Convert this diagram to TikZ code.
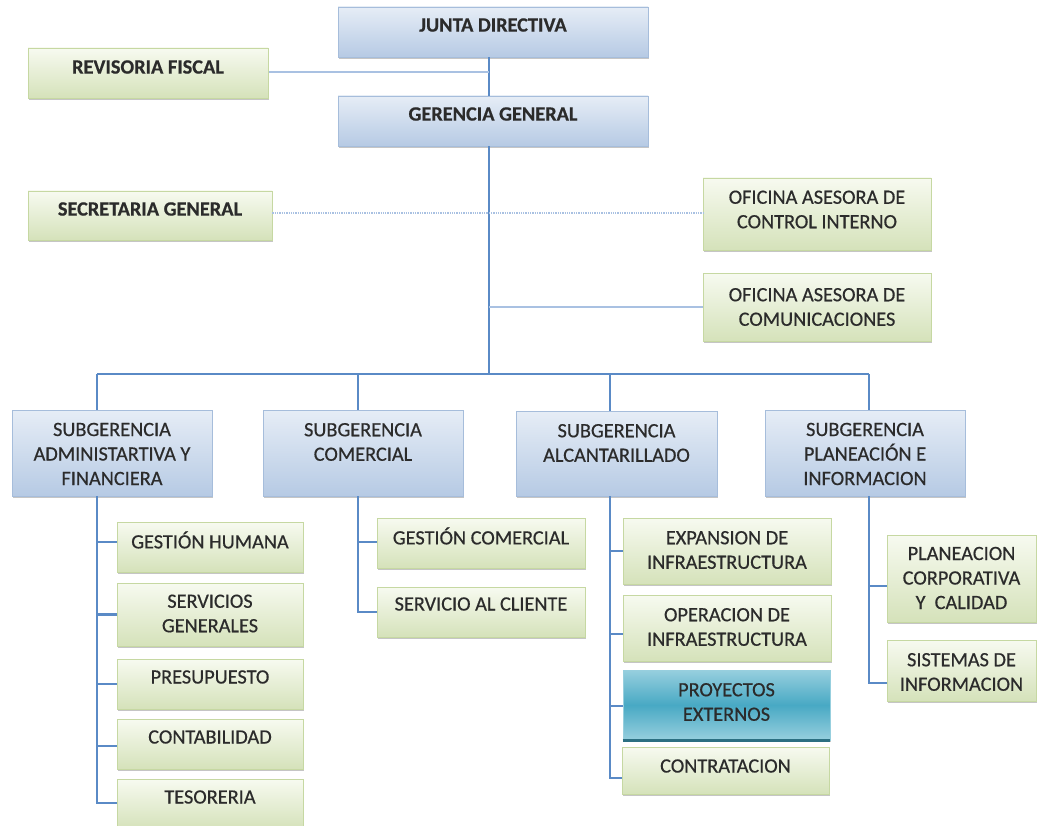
\documentclass[tikz,border=0pt]{standalone}
\usepackage{fontspec}
\setmainfont{Carlito}
\newfontfamily\boxfont[FakeBold=0.5]{Carlito}
\usetikzlibrary{shadows,calc}
\definecolor{bluetop}{HTML}{E6EDF6}
\definecolor{bluebot}{HTML}{B6CAE4}
\definecolor{blueedge}{HTML}{A6BDDB}
\definecolor{greentop}{HTML}{F7FAF0}
\definecolor{greenbot}{HTML}{D5E2BA}
\definecolor{greenedge}{HTML}{C6D8A2}
\definecolor{tealtop}{HTML}{97CFDE}
\definecolor{tealmid}{HTML}{48A9C4}
\definecolor{tealedge}{HTML}{2C6F82}
\definecolor{linemain}{HTML}{5A8AC6}
\definecolor{linelight}{HTML}{A9C1E2}
\definecolor{txtcol}{HTML}{2B2B2B}
\tikzset{
  base/.style={rectangle, line width=0.8pt, inner sep=0pt,
    drop shadow={shadow xshift=1pt, shadow yshift=-2.2pt, opacity=0.45}},
  bluebox/.style={base, draw=blueedge, top color=bluetop, bottom color=bluebot},
  greenbox/.style={base, draw=greenedge, top color=greentop, bottom color=greenbot},
  tealbox/.style={base, draw=tealtop, top color=tealtop, bottom color=tealtop, middle color=tealmid},
  txt/.style={align=center, font=\boxfont\fontsize{20.3}{24.5}\selectfont, text=txtcol, inner sep=0pt},
  mainline/.style={draw=linemain, line width=2.4pt},
  lightline/.style={draw=linelight, line width=1.3pt},
}
\newcommand{\orgbox}[8]{%
  \pgfmathsetmacro{\bxc}{(#3+#5)/2}%
  \pgfmathsetmacro{\byc}{(#4+#6)/2}%
  \pgfmathsetmacro{\bxw}{#5-#3}%
  \pgfmathsetmacro{\bxh}{#6-#4}%
  \node[#2, minimum width=\bxw pt, minimum height=\bxh pt] (#1) at (\bxc,\byc) {};
  \node[txt] (#1-t) at (\bxc,#7) {#8};
}
\begin{document}
\begin{tikzpicture}[x=1pt,y=-1pt]
\useasboundingbox[fill=white] (0,0) rectangle (1038,826);
% coordinates of trunk and drops
\coordinate (trunk) at (489,374);
\coordinate (dA) at (97,374);
\coordinate (dB) at (358,374);
\coordinate (dC) at (610,374);
\coordinate (dD) at (869,374);
\orgbox{jd}{bluebox}{338}{7}{648}{57}{25}{\bfseries JUNTA DIRECTIVA}
\orgbox{gg}{bluebox}{338}{96}{648}{146}{114}{\bfseries GERENCIA GENERAL}
\draw[mainline] (jd.south -| trunk) -- (gg.north -| trunk);
\draw[lightline] (28,72) ++(240,0) coordinate (revE) -- (revE -| trunk);
\orgbox{rf}{greenbox}{28}{48}{268}{98}{67}{\bfseries REVISORIA FISCAL}
\draw[mainline] (gg.south -| trunk) -- (trunk);
\orgbox{sg}{greenbox}{28}{191}{272}{240}{209}{\bfseries SECRETARIA GENERAL}
\orgbox{oci}{greenbox}{703}{178}{931}{250}{209.5}{OFICINA ASESORA DE\\CONTROL INTERNO}
\orgbox{oac}{greenbox}{703}{273}{931}{341}{307}{OFICINA ASESORA DE\\COMUNICACIONES}
\draw[lightline, densely dotted] (sg.east |- 0,213) -- (oci.west |- 0,213);
\draw[lightline] (oac.west) -- (oac.west -| trunk);
% bus
\draw[mainline] (dA) -- (dD);
\orgbox{sa}{bluebox}{12}{410}{212}{496}{454}{SUBGERENCIA\\ADMINISTARTIVA Y\\FINANCIERA}
\orgbox{sc}{bluebox}{263}{410}{463}{496}{442}{SUBGERENCIA\\COMERCIAL}
\orgbox{sal}{bluebox}{516}{411}{717}{496}{443}{SUBGERENCIA\\ALCANTARILLADO}
\orgbox{sp}{bluebox}{765}{410}{965}{496}{454}{SUBGERENCIA\\PLANEACIÓN E\\INFORMACION}
\draw[mainline] (dA) -- (dA |- sa.north);
\draw[mainline] (dB) -- (dB |- sc.north);
\draw[mainline] (dC) -- (dC |- sal.north);
\draw[mainline] (dD) -- (dD |- sp.north);
% admin children
\orgbox{gh}{greenbox}{117}{522}{303}{572}{540}{GESTIÓN HUMANA}
\orgbox{sv}{greenbox}{117}{583}{303}{646}{613.5}{SERVICIOS\\GENERALES}
\orgbox{pr}{greenbox}{117}{659}{303}{709}{677}{PRESUPUESTO}
\orgbox{ct}{greenbox}{117}{719}{303}{769}{737}{CONTABILIDAD}
\orgbox{ts}{greenbox}{117}{779}{303}{829}{797}{TESORERIA}
\draw[mainline] (dA |- sa.south) -- (dA |- 0,803) -- ($(ts.west)+(0,-1)$);
\draw[mainline] (dA |- 0,542) -- (gh.west |- 0,542);
\draw[mainline] (dA |- sv.west) -- (sv.west);
\draw[mainline] (dA |- pr.west) -- (pr.west);
\draw[mainline] (dA |- 0,746) -- (ct.west |- 0,746);
% comercial children
\orgbox{gc}{greenbox}{377}{518}{585}{568}{536}{GESTIÓN COMERCIAL}
\orgbox{sac}{greenbox}{377}{587}{585}{637}{604}{SERVICIO AL CLIENTE}
\draw[mainline] (dB |- sc.south) -- (dB |- 0,612) -- (sac.west |- 0,612);
\draw[mainline] (dB |- 0,542) -- (gc.west |- 0,542);
% alcantarillado children
\orgbox{ex}{greenbox}{623}{518}{831}{584}{550}{EXPANSION DE\\INFRAESTRUCTURA}
\orgbox{op}{greenbox}{623}{595}{831}{661}{627}{OPERACION DE\\INFRAESTRUCTURA}
\orgbox{pe}{tealbox}{623}{670}{830}{740}{702}{PROYECTOS\\EXTERNOS}
\draw[tealedge, line width=2.4pt] (pe.south west) -- (pe.south east);
\orgbox{co}{greenbox}{622}{747}{829}{794}{766}{CONTRATACION}
\draw[mainline] (dC |- sal.south) -- (dC |- 0,778) -- (co.west |- 0,778);
\draw[mainline] (dC |- 0,551) -- (ex.west |- 0,551);
\draw[mainline] (dC |- 0,634) -- (op.west |- 0,634);
\draw[mainline] (dC |- 0,706) -- (pe.west |- 0,706);
% planeacion children
\orgbox{pc}{greenbox}{887}{535}{1036}{622}{578}{PLANEACION\\CORPORATIVA\\Y\ \ CALIDAD}
\orgbox{si}{greenbox}{887}{640}{1036}{701}{672}{SISTEMAS DE\\INFORMACION}
\draw[mainline] (dD |- sp.south) -- (dD |- 0,683) -- (si.west |- 0,683);
\draw[mainline] (dD |- 0,586) -- (pc.west |- 0,586);
\end{tikzpicture}
\end{document}
